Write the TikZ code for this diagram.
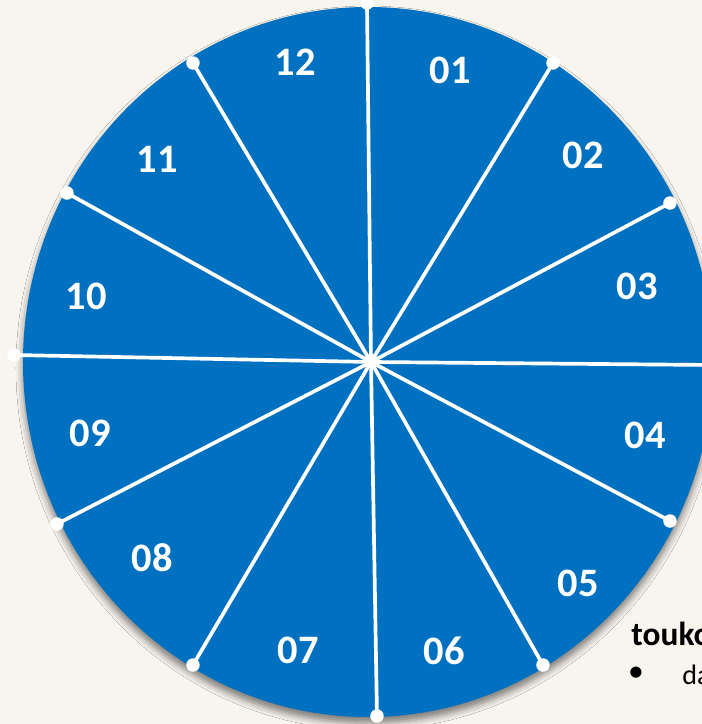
\documentclass[tikz,border=0pt]{standalone}
\usepackage{fontspec}
\setmainfont{Carlito}
\usetikzlibrary{shadows.blur}
\definecolor{paper}{HTML}{F8F4EE}
\definecolor{clockblue}{HTML}{0070C0}
\tikzset{
  monthlbl/.style={text=white, font=\fontsize{23}{23}\selectfont\bfseries, inner sep=0pt},
  spoke/.style={draw=white, line width=2.1pt},
  notetext/.style={font=\fontsize{16}{16}\selectfont, inner sep=0pt, anchor=base west},
}
\begin{document}
\begin{tikzpicture}
\fill[paper] (-7.42,-7.24) rectangle (6.62,7.24);
\useasboundingbox (-7.42,-7.24) rectangle (6.62,7.24);

\fill[clockblue, blur shadow={shadow xshift=0cm, shadow yshift=-0.12cm, shadow blur radius=0.14cm, shadow opacity=50}]
  (-0.06,0) ellipse (6.9 and 7.1);

\coordinate (hub) at (0,0);
\foreach \x/\y [count=\i] in {-0.08/7.18, 3.64/5.98, 5.98/3.18, 6.84/-0.06, 5.98/-3.18, 3.44/-6.06,
    0.12/-7.08, -3.56/-6.06, -6.28/-3.24, -7.14/0.14, -6.08/3.38, -3.56/5.98}
  \coordinate (s\i) at (\x,\y);
\foreach \i in {1,...,12} {
  \draw[spoke] (hub) -- (s\i);
  \fill[white] (s\i) circle (0.135);
}

\foreach \t/\x/\y in {12/-1.52/6.0, 01/1.58/5.84, 02/4.24/4.14, 03/5.32/1.52, 04/5.48/-1.46, 05/4.14/-4.42,
    06/1.46/-5.78, 07/-1.46/-5.76, 08/-4.38/-3.92, 09/-5.62/-1.42, 10/-5.7/1.32, 11/-4.28/4.06}
  \node[monthlbl] (m\t) at (\x,\y) {\t};

\node[notetext, font=\fontsize{19}{19}\selectfont\bfseries] (touko) at (5.2,-5.66) {touko};
\node[inner sep=0pt, font=\fontsize{18}{18}\selectfont] (bullet) at (5.30,-6.24) {•};
\node[notetext] (da) at (6.22,-6.44) {da};
\end{tikzpicture}
\end{document}
